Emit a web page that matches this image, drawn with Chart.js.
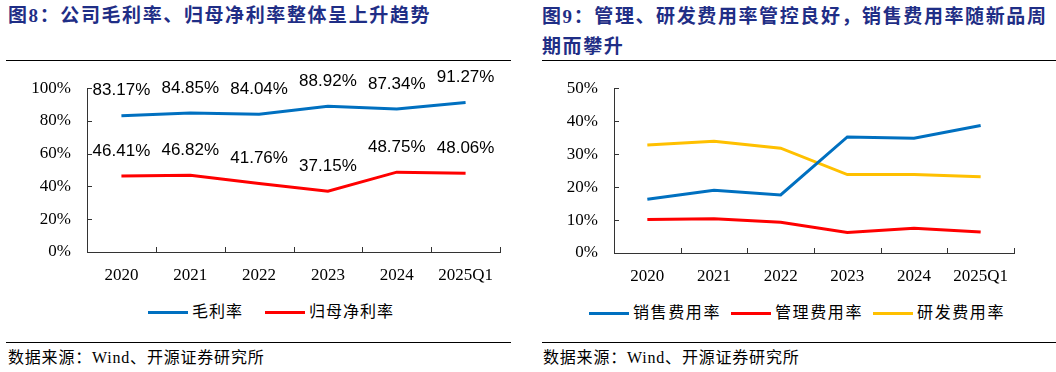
<!DOCTYPE html>
<html>
<head>
<meta charset="utf-8">
<script src="https://cdn.jsdelivr.net/npm/chart.js@4"></script>
<style>
  html, body { margin:0; padding:0; background:#fff; }
  body { width:1056px; height:372px; position:relative; overflow:hidden; }
  .abs { position:absolute; }
  .title { font-family:"Liberation Serif","Noto Sans CJK SC",serif; font-weight:bold; font-size:19px; letter-spacing:1.6px; color:#1F2E86; line-height:30px; white-space:nowrap; }
  .rule { height:1px; background:#000; }
  .foot { font-family:"Liberation Serif","Noto Sans CJK SC",serif; font-size:16px; line-height:20px; color:#000; white-space:nowrap; letter-spacing:0.8px; }
  .legend { font-family:"Liberation Serif","Noto Sans CJK SC",serif; font-size:16px; line-height:20px; color:#000; white-space:nowrap; display:flex; align-items:center; letter-spacing:1px; }
  .legend .item { display:flex; align-items:center; }
  .legend .swatch { width:40px; height:3px; margin-right:4px; }
</style>
</head>
<body>
<!-- Left panel -->
<div class="abs title" style="left:8px; top:1px;">图8：公司毛利率、归母净利率整体呈上升趋势</div>
<div class="abs rule" style="left:6px; top:60px; width:505px;"></div>
<canvas id="c1" class="abs" width="528" height="230" style="left:0; top:62px;"></canvas>
<div id="lg1" class="abs legend" style="left:148px; top:302px;"></div>
<div class="abs rule" style="left:6px; top:342px; width:505px;"></div>
<div class="abs foot" style="left:8px; top:348px;">数据来源：Wind、开源证券研究所</div>

<!-- Right panel -->
<div class="abs title" style="left:542px; top:2px;">图9：管理、研发费用率管控良好，销售费用率随新品周<br>期而攀升</div>
<div class="abs rule" style="left:542px; top:60px; width:514px;"></div>
<canvas id="c2" class="abs" width="528" height="231" style="left:528px; top:62px;"></canvas>
<div id="lg2" class="abs legend" style="left:589px; top:303px;"></div>
<div class="abs rule" style="left:542px; top:342px; width:514px;"></div>
<div class="abs foot" style="left:543px; top:348px;">数据来源：Wind、开源证券研究所</div>

<script>
// ---- Data ----
const categories = ['2020', '2021', '2022', '2023', '2024', '2025Q1'];

const grossMarginName = '毛利率';
const grossMargin = [83.17, 84.85, 84.04, 88.92, 87.34, 91.27];
const netMarginName = '归母净利率';
const netMargin = [46.41, 46.82, 41.76, 37.15, 48.75, 48.06];

const salesRateName = '销售费用率';
const salesRate = [16.3, 19.0, 17.6, 35.2, 34.8, 38.7];
const adminRateName = '管理费用率';
const adminRate = [10.2, 10.4, 9.3, 6.2, 7.5, 6.4];
const rdRateName = '研发费用率';
const rdRate = [32.8, 33.9, 31.8, 23.8, 23.8, 23.1];

const leftTickLabels = ['0%', '20%', '40%', '60%', '80%', '100%'];
const rightTickLabels = ['0%', '10%', '20%', '30%', '40%', '50%'];

// ---- Styles ----
const BLUE = '#0070C0', RED = '#FF0000', YELLOW = '#FFC000';
const AXIS = '#333333';
const TICK_FONT = { family: '"Liberation Serif", "Times New Roman", serif', size: 17 };

const innerTicks = {
  id: 'innerTicks',
  afterDraw(chart) {
    const { ctx, scales: { x, y } } = chart;
    ctx.save();
    ctx.strokeStyle = AXIS;
    ctx.lineWidth = 1;
    ctx.beginPath();
    y.ticks.forEach(t => {
      const py = Math.round(y.getPixelForValue(t.value)) + 0.5;
      ctx.moveTo(x.left, py); ctx.lineTo(x.left + 5, py);
    });
    const n = x.ticks.length;
    const w = (x.right - x.left) / n;
    for (let i = 1; i <= n; i++) {
      const px = Math.round(x.left + i * w) + 0.5;
      ctx.moveTo(px, y.bottom); ctx.lineTo(px, y.bottom - 5);
    }
    ctx.stroke();
    ctx.restore();
  }
};

const valueLabels = {
  id: 'valueLabels',
  afterDatasetsDraw(chart, args, opts) {
    if (!opts || !opts.display) return;
    const { ctx } = chart;
    ctx.save();
    ctx.font = '17px "Liberation Sans", Arial, sans-serif';
    ctx.fillStyle = '#000';
    ctx.textAlign = 'center';
    ctx.textBaseline = 'middle';
    chart.data.datasets.forEach((ds, di) => {
      const meta = chart.getDatasetMeta(di);
      meta.data.forEach((pt, i) => {
        ctx.fillText(ds.data[i].toFixed(2) + '%', pt.x, pt.y - 25);
      });
    });
    ctx.restore();
  }
};

function makeChart(id, datasets, maxV, step, tickLabels, yWidth, padTop, padRight, showLabels) {
  return new Chart(document.getElementById(id), {
    type: 'line',
    data: { labels: categories, datasets },
    options: {
      responsive: false,
      animation: false,
      devicePixelRatio: 1,
      layout: { padding: { top: padTop, right: padRight, left: 0, bottom: 0 } },
      plugins: { legend: { display: false }, tooltip: { enabled: false }, valueLabels: { display: showLabels } },
      elements: { point: { radius: 0 }, line: { tension: 0, borderWidth: 3 } },
      scales: {
        x: {
          type: 'category',
          offset: true,
          grid: { display: true, drawOnChartArea: false, drawTicks: false },
          border: { display: true, color: AXIS, width: 1 },
          ticks: { font: TICK_FONT, color: '#000', padding: 13, maxRotation: 0, autoSkip: false },
          afterFit: s => { s.height = 40; }
        },
        y: {
          min: 0, max: maxV,
          grid: { display: true, drawOnChartArea: false, drawTicks: false },
          border: { display: true, color: AXIS, width: 1 },
          ticks: {
            stepSize: step, font: TICK_FONT, color: '#000', padding: 16,
            callback: (v, i) => tickLabels[i]
          },
          afterFit: s => { s.width = yWidth; }
        }
      }
    },
    plugins: [innerTicks, valueLabels]
  });
}

makeChart('c1', [
  { label: grossMarginName, data: grossMargin, borderColor: BLUE, backgroundColor: BLUE },
  { label: netMarginName, data: netMargin, borderColor: RED, backgroundColor: RED }
], 100, 20, leftTickLabels, 87, 25, 28, true);

makeChart('c2', [
  { label: salesRateName, data: salesRate, borderColor: BLUE, backgroundColor: BLUE },
  { label: adminRateName, data: adminRate, borderColor: RED, backgroundColor: RED },
  { label: rdRateName, data: rdRate, borderColor: YELLOW, backgroundColor: YELLOW }
], 50, 10, rightTickLabels, 86, 24, 42, false);

function buildLegend(id, items, gap, spacing) {
  const el = document.getElementById(id);
  items.forEach(([name, color], k) => {
    const it = document.createElement('div');
    it.className = 'item';
    if (k < items.length - 1) it.style.marginRight = gap + 'px';
    const sw = document.createElement('div');
    sw.className = 'swatch';
    sw.style.background = color;
    const tx = document.createElement('span');
    tx.textContent = name;
    tx.style.letterSpacing = spacing + 'px';
    it.appendChild(sw); it.appendChild(tx);
    el.appendChild(it);
  });
}
buildLegend('lg1', [[grossMarginName, BLUE], [netMarginName, RED]], 22, 1);
buildLegend('lg2', [[salesRateName, BLUE], [adminRateName, RED], [rdRateName, YELLOW]], 10, 1.6);
</script>
</body>
</html>
